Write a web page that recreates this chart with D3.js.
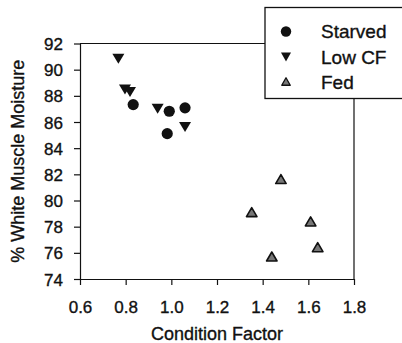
<!DOCTYPE html>
<html>
<head>
<meta charset="utf-8">
<script src="https://cdn.jsdelivr.net/npm/d3@7/dist/d3.min.js"></script>
<style>
html,body{margin:0;padding:0;background:#fff;}
svg{display:block;}
text{font-family:"Liberation Sans",Arial,Helvetica,sans-serif;fill:#111;stroke:#111;stroke-width:0.35px;}
</style>
</head>
<body>
<script>
// ---- data ----
const seriesNames = ["Starved", "Low CF", "Fed"];
const starvedX = [0.833, 0.991, 1.060, 0.982];
const starvedY = [87.33, 86.82, 87.08, 85.11];
const lowCFX = [0.768, 0.797, 0.819, 0.940, 1.060];
const lowCFY = [90.83, 88.48, 88.30, 87.02, 85.62];
const fedX = [1.352, 1.480, 1.440, 1.610, 1.641];
const fedY = [79.11, 81.64, 75.72, 78.40, 76.43];
const xTicks = [0.6, 0.8, 1.0, 1.2, 1.4, 1.6, 1.8];
const yTicks = [74, 76, 78, 80, 82, 84, 86, 88, 90, 92];
const xTitle = "Condition Factor";
const yTitle = "% White Muscle Moisture";

const W = 402, H = 343;
const svg = d3.select("body").append("svg").attr("width", W).attr("height", H);

const x = d3.scaleLinear().domain([0.6, 1.8]).range([80, 354]);
const y = d3.scaleLinear().domain([74, 92]).range([279, 43.5]);

const ink = "#111";

// frame (top + right)
svg.append("line").attr("x1", x(0.6)).attr("x2", x(1.8)).attr("y1", y(92)).attr("y2", y(92))
  .attr("stroke", ink).attr("stroke-width", 1.2);
svg.append("line").attr("x1", x(1.8)).attr("x2", x(1.8)).attr("y1", y(92)).attr("y2", y(74))
  .attr("stroke", ink).attr("stroke-width", 1.2);

// axes
const gx = svg.append("g").attr("transform", `translate(0,${y(74)})`)
  .call(d3.axisBottom(x).tickValues(xTicks).tickFormat(d3.format(".1f")).tickSize(6).tickSizeOuter(0).tickPadding(16));
const gy = svg.append("g").attr("transform", `translate(${x(0.6)},0)`)
  .call(d3.axisLeft(y).tickValues(yTicks).tickFormat(d3.format("d")).tickSize(6).tickSizeOuter(0).tickPadding(11));
[gx, gy].forEach(g => {
  g.selectAll("path,line").attr("stroke", ink).attr("stroke-width", 1.2);
  g.selectAll("text").attr("font-size", 17).attr("fill", ink)
   .attr("font-family", "'Liberation Sans',Arial,sans-serif");
});
gy.selectAll("text").attr("dy", "0.36em");

// titles
svg.append("text").attr("x", (x(0.6) + x(1.8)) / 2).attr("y", 340)
  .attr("text-anchor", "middle").attr("font-size", 18).text(xTitle);
svg.append("text").attr("transform", `translate(23.5,${(y(74) + y(92)) / 2}) rotate(-90)`)
  .attr("text-anchor", "middle").attr("font-size", 18).text(yTitle);

// marker shapes (centered on bbox)
function tri(w, h, down) {
  return down
    ? `M${-w/2},${-h/2}L${w/2},${-h/2}L0,${h/2}Z`
    : `M${-w/2},${h/2}L${w/2},${h/2}L0,${-h/2}Z`;
}

const starved = starvedX.map((v, i) => ({x: v, y: starvedY[i]}));
const lowCF = lowCFX.map((v, i) => ({x: v, y: lowCFY[i]}));
const fed = fedX.map((v, i) => ({x: v, y: fedY[i]}));

svg.append("g").selectAll("circle").data(starved).join("circle")
  .attr("cx", d => x(d.x)).attr("cy", d => y(d.y)).attr("r", 5.6).attr("fill", ink);
svg.append("g").selectAll("path").data(lowCF).join("path")
  .attr("d", tri(12, 10, true)).attr("transform", d => `translate(${x(d.x)},${y(d.y)})`).attr("fill", ink);
svg.append("g").selectAll("path").data(fed).join("path")
  .attr("d", tri(10.5, 9, false)).attr("transform", d => `translate(${x(d.x)},${y(d.y)})`)
  .attr("fill", "#777").attr("stroke", ink).attr("stroke-width", 1.6).attr("stroke-linejoin", "round");

// legend
const lg = svg.append("g");
lg.append("rect").attr("x", 265).attr("y", 7.5).attr("width", 150).attr("height", 91)
  .attr("fill", "#fff").attr("stroke", ink).attr("stroke-width", 1.3);
const rowBase = [37.5, 63.5, 88.8];
const mx = 286, tx = 321;
lg.append("circle").attr("cx", mx).attr("cy", rowBase[0] - 6).attr("r", 5.2).attr("fill", ink);
lg.append("path").attr("d", tri(10, 9, true)).attr("transform", `translate(${mx},${rowBase[1] - 6.5})`).attr("fill", ink);
lg.append("path").attr("d", tri(8.5, 7.5, false)).attr("transform", `translate(${mx},${rowBase[2] - 7.3})`)
  .attr("fill", "#777").attr("stroke", ink).attr("stroke-width", 1.3).attr("stroke-linejoin", "round");
lg.selectAll("text.lt").data(seriesNames).join("text").attr("class", "lt")
  .attr("x", tx).attr("y", (d, i) => rowBase[i]).attr("font-size", 19).text(d => d);
</script>
</body>
</html>
